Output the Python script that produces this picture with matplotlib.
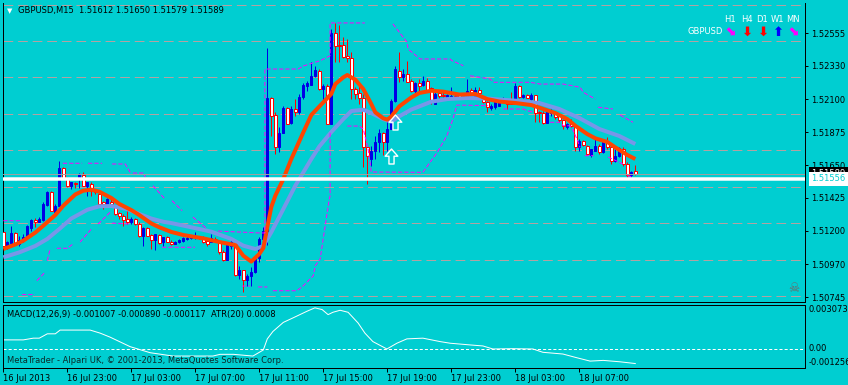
# GBPUSD M15 MetaTrader chart remake
import numpy as np
import matplotlib
matplotlib.use("Agg")
import matplotlib.pyplot as plt
from matplotlib.path import Path

# ---- values ----
opens = [1.51189, 1.51093, 1.51115, 1.51184, 1.51110, 1.51131, 1.51147, 1.51216, 1.51275, 1.51261,
         1.51275, 1.51376, 1.51463, 1.51330, 1.51371, 1.51627, 1.51559, 1.51504, 1.51527, 1.51554,
         1.51581, 1.51508, 1.51520, 1.51474, 1.51451, 1.51394, 1.51383, 1.51394, 1.51360, 1.51321,
         1.51302, 1.51280, 1.51257, 1.51280, 1.51245, 1.51165, 1.51216, 1.51170, 1.51138, 1.51170,
         1.51120, 1.51156, 1.51124, 1.51110, 1.51120, 1.51129, 1.51143, 1.51147, 1.51154, 1.51156,
         1.51152, 1.51129, 1.51120, 1.51146, 1.51124, 1.51056, 1.51001, 1.51097, 1.51120, 1.50896,
         1.50928, 1.50864, 1.50887, 1.50914, 1.51010, 1.51143, 1.51197, 1.52107, 1.51993, 1.51771,
         1.51869, 1.52039, 1.51936, 1.52034, 1.52015, 1.52114, 1.52194, 1.52198, 1.52258, 1.52296,
         1.52171, 1.52194, 1.51931, 1.52555, 1.52473, 1.52473, 1.52399, 1.52381, 1.52171, 1.52144,
         1.52107, 1.51771, 1.51691, 1.51748, 1.51810, 1.51867, 1.51810, 1.51897, 1.52091, 1.52296,
         1.52253, 1.52274, 1.52228, 1.52159, 1.52210, 1.52198, 1.52228, 1.52176, 1.52068, 1.52144,
         1.52132, 1.52114, 1.52116, 1.52121, 1.52137, 1.52123, 1.52114, 1.52166, 1.52107, 1.52166,
         1.52102, 1.52080, 1.52039, 1.52046, 1.52057, 1.52089, 1.52091, 1.52080, 1.52068, 1.52194,
         1.52116, 1.52130, 1.52102, 1.52130, 1.52011, 1.52006, 1.51938, 1.52006, 1.52015, 1.51993,
         1.51961, 1.51908, 1.51931, 1.51915, 1.51771, 1.51817, 1.51782, 1.51719, 1.51748, 1.51778,
         1.51737, 1.51806, 1.51771, 1.51679, 1.51710, 1.51760, 1.51657, 1.51581, 1.51612]
highs = [1.51197, 1.51131, 1.51232, 1.51191, 1.51163, 1.51177, 1.51239, 1.51280, 1.51285, 1.51291,
         1.51394, 1.51474, 1.51472, 1.51383, 1.51677, 1.51636, 1.51566, 1.51535, 1.51533, 1.51595,
         1.51600, 1.51535, 1.51531, 1.51485, 1.51463, 1.51405, 1.51422, 1.51417, 1.51371, 1.51330,
         1.51314, 1.51337, 1.51291, 1.51287, 1.51257, 1.51223, 1.51223, 1.51177, 1.51177, 1.51177,
         1.51154, 1.51163, 1.51136, 1.51131, 1.51143, 1.51158, 1.51163, 1.51165, 1.51189, 1.51163,
         1.51163, 1.51131, 1.51175, 1.51153, 1.51136, 1.51067, 1.51108, 1.51143, 1.51122, 1.50960,
         1.50930, 1.50903, 1.50949, 1.51028, 1.51154, 1.51223, 1.52450, 1.52114, 1.52011, 1.51908,
         1.52057, 1.52046, 1.52057, 1.52102, 1.52137, 1.52212, 1.52228, 1.52354, 1.52331, 1.52308,
         1.52205, 1.52205, 1.52582, 1.52624, 1.52610, 1.52525, 1.52514, 1.52423, 1.52183, 1.52205,
         1.52137, 1.51782, 1.51782, 1.51851, 1.51897, 1.51874, 1.51965, 1.52102, 1.52331, 1.52423,
         1.52308, 1.52365, 1.52240, 1.52217, 1.52240, 1.52262, 1.52244, 1.52183, 1.52148, 1.52157,
         1.52159, 1.52137, 1.52183, 1.52144, 1.52144, 1.52137, 1.52240, 1.52178, 1.52183, 1.52183,
         1.52109, 1.52089, 1.52068, 1.52091, 1.52091, 1.52114, 1.52093, 1.52148, 1.52212, 1.52198,
         1.52137, 1.52135, 1.52144, 1.52132, 1.52022, 1.52022, 1.52013, 1.52034, 1.52022, 1.52000,
         1.51965, 1.51938, 1.51965, 1.51919, 1.51828, 1.51821, 1.51787, 1.51760, 1.51828, 1.51794,
         1.51808, 1.51840, 1.51778, 1.51760, 1.51771, 1.51771, 1.51668, 1.51611, 1.51650]
lows = [1.51088, 1.51074, 1.51108, 1.51108, 1.51097, 1.51122, 1.51143, 1.51200, 1.51223, 1.51257,
        1.51268, 1.51371, 1.51335, 1.51328, 1.51367, 1.51554, 1.51497, 1.51485, 1.51492, 1.51490,
        1.51504, 1.51439, 1.51439, 1.51451, 1.51376, 1.51348, 1.51371, 1.51369, 1.51307, 1.51280,
        1.51230, 1.51245, 1.51245, 1.51239, 1.51156, 1.51097, 1.51163, 1.51074, 1.51069, 1.51108,
        1.51093, 1.51122, 1.51101, 1.51106, 1.51115, 1.51122, 1.51136, 1.51143, 1.51143, 1.51146,
        1.51115, 1.51097, 1.51120, 1.51136, 1.51040, 1.50992, 1.50999, 1.51074, 1.50889, 1.50868,
        1.50777, 1.50822, 1.50822, 1.50912, 1.50983, 1.51108, 1.51101, 1.51851, 1.51725, 1.51737,
        1.51867, 1.51929, 1.51931, 1.51988, 1.52000, 1.52102, 1.52159, 1.52196, 1.52251, 1.52164,
        1.52080, 1.51929, 1.51929, 1.52354, 1.52358, 1.52381, 1.52354, 1.52102, 1.52102, 1.52068,
        1.51634, 1.51520, 1.51645, 1.51691, 1.51737, 1.51719, 1.51748, 1.51895, 1.52080, 1.52217,
        1.52228, 1.52217, 1.52148, 1.52137, 1.52159, 1.52194, 1.52159, 1.52068, 1.52066, 1.52102,
        1.52114, 1.52112, 1.52114, 1.52109, 1.52109, 1.52109, 1.52102, 1.52137, 1.52102, 1.52116,
        1.52075, 1.52011, 1.52027, 1.52034, 1.52054, 1.52080, 1.52034, 1.52066, 1.52066, 1.52112,
        1.52112, 1.52109, 1.52080, 1.51947, 1.51943, 1.51931, 1.51936, 1.51988, 1.51965, 1.51943,
        1.51897, 1.51897, 1.51908, 1.51748, 1.51748, 1.51780, 1.51719, 1.51703, 1.51746, 1.51725,
        1.51735, 1.51760, 1.51657, 1.51668, 1.51703, 1.51645, 1.51554, 1.51566, 1.51579]
closes = [1.51097, 1.51120, 1.51184, 1.51110, 1.51138, 1.51154, 1.51230, 1.51271, 1.51261, 1.51280,
          1.51383, 1.51463, 1.51337, 1.51371, 1.51627, 1.51559, 1.51504, 1.51531, 1.51520, 1.51588,
          1.51508, 1.51531, 1.51474, 1.51463, 1.51383, 1.51383, 1.51417, 1.51383, 1.51314, 1.51298,
          1.51275, 1.51261, 1.51280, 1.51245, 1.51165, 1.51216, 1.51165, 1.51138, 1.51177, 1.51115,
          1.51154, 1.51124, 1.51110, 1.51124, 1.51134, 1.51152, 1.51152, 1.51156, 1.51161, 1.51153,
          1.51120, 1.51110, 1.51147, 1.51143, 1.51051, 1.51001, 1.51101, 1.51120, 1.50896, 1.50928,
          1.50864, 1.50891, 1.50918, 1.51005, 1.51143, 1.51200, 1.52107, 1.51988, 1.51771, 1.51869,
          1.52039, 1.51931, 1.52034, 1.52015, 1.52114, 1.52198, 1.52212, 1.52258, 1.52303, 1.52171,
          1.52194, 1.51931, 1.52555, 1.52468, 1.52466, 1.52388, 1.52381, 1.52171, 1.52137, 1.52107,
          1.51771, 1.51710, 1.51748, 1.51810, 1.51867, 1.51810, 1.51897, 1.52091, 1.52308, 1.52251,
          1.52274, 1.52221, 1.52159, 1.52210, 1.52194, 1.52228, 1.52166, 1.52098, 1.52137, 1.52121,
          1.52123, 1.52130, 1.52123, 1.52116, 1.52114, 1.52120, 1.52159, 1.52144, 1.52166, 1.52144,
          1.52080, 1.52046, 1.52057, 1.52080, 1.52084, 1.52096, 1.52068, 1.52068, 1.52194, 1.52114,
          1.52130, 1.52111, 1.52130, 1.52006, 1.52006, 1.51938, 1.52011, 1.52022, 1.51981, 1.51961,
          1.51919, 1.51931, 1.51915, 1.51771, 1.51817, 1.51787, 1.51725, 1.51760, 1.51782, 1.51737,
          1.51806, 1.51771, 1.51679, 1.51710, 1.51764, 1.51657, 1.51581, 1.51600, 1.51589]

# orange (fast) and blue (slow) moving averages, sampled along the chart
fast_idx = [0, 3, 5, 8, 10, 13, 15, 18, 20, 22, 24, 27, 29, 32, 34, 37, 39, 42, 45, 50, 54, 58, 60,
            62, 64, 65, 66, 67, 68, 70, 72, 75, 77, 79, 82, 83, 85, 86, 88, 90, 92, 93, 95, 96, 97,
            99, 102, 104, 107, 110, 114, 118, 121, 124, 128, 132, 135, 138, 141, 143, 146, 148,
            151, 153, 156, 158]
fast_ma = [1.51074, 1.51105, 1.51131, 1.51187, 1.51234, 1.51307, 1.51371, 1.51448, 1.51474, 1.51481,
           1.51467, 1.51424, 1.51383, 1.51341, 1.51307, 1.51249, 1.51223, 1.51191, 1.51170, 1.51147,
           1.51122, 1.51101, 1.51028, 1.50988, 1.51040, 1.51081, 1.51225, 1.51362, 1.51439, 1.51554,
           1.51691, 1.51874, 1.51993, 1.52051, 1.52137, 1.52205, 1.52251, 1.52267, 1.52235, 1.52171,
           1.52068, 1.52011, 1.51970, 1.51961, 1.51982, 1.52052, 1.52113, 1.52144, 1.52159, 1.52153,
           1.52133, 1.52137, 1.52102, 1.52085, 1.52075, 1.52061, 1.52034, 1.52006, 1.51965, 1.51919,
           1.51862, 1.51833, 1.51808, 1.51771, 1.51719, 1.51691]
slow_idx = [0, 4, 8, 11, 14, 17, 21, 24, 27, 31, 34, 37, 40, 42, 47, 52, 57, 60, 63, 65, 67, 70, 73,
            77, 79, 82, 85, 87, 90, 92, 95, 97, 99, 102, 107, 111, 116, 121, 124, 129, 134, 139,
            144, 149, 154, 158]
slow_ma = [1.51017, 1.51051, 1.51095, 1.51143, 1.51211, 1.51283, 1.51343, 1.51367, 1.51369, 1.51348,
           1.51314, 1.51283, 1.51261, 1.51252, 1.51223, 1.51193, 1.51143, 1.51097, 1.51074, 1.51095,
           1.51189, 1.51348, 1.51508, 1.51691, 1.51777, 1.51876, 1.51965, 1.52020, 1.52029, 1.52006,
           1.51965, 1.51947, 1.51984, 1.52030, 1.52084, 1.52102, 1.52109, 1.52106, 1.52099, 1.52089,
           1.52075, 1.52034, 1.51972, 1.51897, 1.51849, 1.51794]

# magenta channel lines (None = gap in the drawn line)
upper_idx = [0, 4.4, None, 14.9, 19.7, None, 21.2, 24.7, None, 27.2, 30.5, 31.2, 32, None,
             32.4, 35, 35.5, None, 37.4, 40.4, None, 42.2, 44.7, None, 47.4, 51, None,
             53.7, 64.2, 65.4, 65.4, 73.7, 75, 79.2, 81.7, 81.7, 90.4, None,
             97.4, 100.9, 101.2, 104.2, 111.7, 112.2, 115, None,
             116.7, 121.7, 122.7, 131.7, 134.2, 140, 144.2, 145, 148, None,
             148.7, 152.4, None, 154.2, 157.4]
upper_val = [1.51268, 1.51268, None, 1.51662, 1.51662, None, 1.51662, 1.51662, None,
             1.51657, 1.51657, 1.51623, 1.51588, None, 1.51595, 1.51595, 1.51568, None,
             1.51508, 1.51417, None, 1.51405, 1.51337, None, 1.51293, 1.51211, None,
             1.51197, 1.51184, 1.51184, 1.52308, 1.52308, 1.52329, 1.52365, 1.52399, 1.52624,
             1.52624, None, 1.52617, 1.52493, 1.52445, 1.52377, 1.52377, 1.52365, 1.52331, None,
             1.52262, 1.52240, 1.52217, 1.52217, 1.52205, 1.52205, 1.52183, 1.52148, 1.52102, None,
             1.52046, 1.52034, None, 1.51993, 1.51943]
lower_idx = [4.7, 7.9, None, 8.4, 10.4, None, 11, 11.7, None, 13.4, 16, 17.4, None, 19.2, 22, None,
             23.7, 26.7, None, 27.2, 31.7, None, 39.7, 47.9, None, 59.7, 61.7, None, 63.7, 66, None,
             67.4, 73.4, 75, 77.5, 78, 79.2, 81.5, 81.7, 81.7, None,
             86, 89, 90, 91.2, 92, 104.9, 106, 108.5, 110.9, 112.4, 113.4, 121.2, None,
             125, 130, 131, 132.7, None, 136.7, 139.2, 140, 141.7, 142.5, 143.4, 144.2, None,
             145.4, 147.6, None, 151.2, 154.9, None, 156, 157.5]
lower_val = [1.50762, 1.50762, None, 1.50857, 1.50914, None, 1.50994, 1.51074, None,
             1.51079, 1.51079, 1.51108, None, 1.51122, 1.51211, None, 1.51245, 1.51326, None,
             1.51252, 1.51245, None, 1.51086, 1.51086, None, 1.50820, 1.50820, None,
             1.50814, 1.50814, None, 1.50788, 1.50788, 1.50822, 1.50891, 1.50960, 1.51005,
             1.51417, 1.51437, 1.51876, None, 1.51917, 1.51917, 1.51897, 1.51760, 1.51602,
             1.51600, 1.51643, 1.51737, 1.51851, 1.51965, 1.52061, 1.52057, None,
             1.52034, 1.52034, 1.52022, 1.52011, None, 1.51943, 1.51943, 1.51919, 1.51919,
             1.51885, 1.51828, 1.51771, None, 1.51714, 1.51714, None, 1.51705, 1.51657, None,
             1.51577, 1.51566]

# MACD main line
macd_idx = [0, 5, 7.5, 9, 11, 13, 14.2, 21.7, 24.2, 26.7, 31.7, 36.7, 42.4, 52.4, 54.2, 57.5, 62.4,
            65, 66, 67.4, 70, 72.4, 75.9, 77.9, 79.7, 81.2, 82.4, 84.2, 86.2, 88.7, 90.4, 92.4,
            95.9, 98.4, 100.9, 104.9, 109.2, 111.7, 116.7, 119.9, 122.4, 127.4, 132.4, 134.9,
            139.9, 143.4, 146.7, 150, 154.2, 158]
macd_val = [0.000628, 0.000628, 0.000747, 0.000747, 0.001047, 0.001047, 0.001306, 0.001306,
            0.001096, 0.000817, 0.000161, -0.000258, -0.000489, -0.000489, -0.000370, -0.000370,
            -0.000489, -0.000070, 0.000698, 0.001208, 0.001836, 0.002144, 0.002604, 0.002842,
            0.002723, 0.002374, 0.002535, 0.002674, 0.002535, 0.001794, 0.001096, 0.000510,
            0.0, 0.000398, 0.000698, 0.000747, 0.000510, 0.000398, 0.000279, 0.000209, 0.0,
            0.000021, 0.0, -0.000230, -0.000349, -0.000607, -0.000838, -0.000789, -0.000887,
            -0.001007]
macd_max, macd_min = 0.003073, -0.001256

# signal arrows
sig_idx = [98, 97]
sig_price = [1.51943, 1.51714]

price_ticks = [1.52555, 1.52330, 1.52100, 1.51875, 1.51650, 1.51425, 1.51200, 1.50970, 1.50745]
round_levels = [1.5075, 1.5100, 1.5125, 1.5150, 1.5175, 1.5200, 1.5225, 1.5250, 1.5275]
bid_price = 1.51589
hline_price = 1.51556

time_idx = [0, 16, 32, 48, 64, 80, 96, 112, 128, 144]
time_labels = ["16 Jul 2013", "16 Jul 23:00", "17 Jul 03:00", "17 Jul 07:00", "17 Jul 11:00",
               "17 Jul 15:00", "17 Jul 19:00", "17 Jul 23:00", "18 Jul 03:00", "18 Jul 07:00"]

tf_names = ["H1", "H4", "D1", "W1", "MN"]
tf_arrows = ["\u2b0a", "\u2b07", "\u2b07", "\u2b06", "\u2b0a"]
tf_colors = ["#ff00ff", "#ff0000", "#ff0000", "#0000ff", "#ff00ff"]

# ---- style ----
BG = "#00ced1"
BULL = "#0000e6"
BEAR = "#ff0000"
W, H = 848, 385
PX = 0.72  # one pixel in points at dpi 100

plt.rcParams["font.family"] = ["DejaVu Sans"]
plt.rcParams["font.size"] = 6
plt.rcParams["lines.scale_dashes"] = False

fig = plt.figure(figsize=(W / 100, H / 100), dpi=100, facecolor=BG)


def fx(x):
    return x / W


def fy(y):
    return 1 - y / H


# pixel layout of the two panes
L, R = 2.5, 805
T1, B1 = 3, 301.5
T2, B2 = 304.5, 367.5


def price_at(ypx):
    return 1.52555 - (ypx - 34) / 14586


xlim = ((L - 3.3) / 4, (R - 3.3) / 4)

ax = fig.add_axes([fx(L), fy(B1), (R - L) / W, (B1 - T1) / H], facecolor=BG)
ax2 = fig.add_axes([fx(L), fy(B2), (R - L) / W, (B2 - T2) / H], facecolor=BG)

ax.set_xlim(*xlim)
ax.set_ylim(price_at(B1 + 1), price_at(T1 + 1))

# round-number levels
for lv in round_levels:
    ax.axhline(lv, color="#b2a2a2", lw=PX, dashes=(7, 3.5), zorder=1)

# candles
o = np.array(opens)
h = np.array(highs)
lo = np.array(lows)
c = np.array(closes)
idx = np.arange(len(c))
up = c > o
body_bot = np.minimum(o, c)
body_h = np.abs(c - o)

ax.vlines(idx[up], lo[up], h[up], color=BULL, lw=PX, zorder=2)
ax.vlines(idx[~up], lo[~up], h[~up], color=BEAR, lw=PX, zorder=2)
ax.bar(idx[up], body_h[up], bottom=body_bot[up], width=0.55, color=BULL,
       edgecolor=BULL, lw=PX, zorder=3)
ax.bar(idx[~up], body_h[~up], bottom=body_bot[~up], width=0.7, facecolor="white",
       edgecolor=BEAR, lw=PX, zorder=3)

# moving averages
ax.plot(slow_idx, slow_ma, color="#7896e8", lw=4 * PX, solid_capstyle="butt", zorder=4)
ax.plot(fast_idx, fast_ma, color="#ff4500", lw=4 * PX, solid_capstyle="butt", zorder=5)

# channel lines
ax.plot(np.array(upper_idx, dtype=float), np.array(upper_val, dtype=float),
        color="#ff00ff", lw=PX, dashes=(3, 1.5), zorder=6)
ax.plot(np.array(lower_idx, dtype=float), np.array(lower_val, dtype=float),
        color="#ff00ff", lw=PX, dashes=(3, 1.5), zorder=6)

# hollow up arrows
arrow = Path([(0, 0.5), (0.42, 0.02), (0.17, 0.02), (0.17, -0.5), (-0.17, -0.5),
              (-0.17, 0.02), (-0.42, 0.02), (0, 0.5)],
             [Path.MOVETO] + [Path.LINETO] * 6 + [Path.CLOSEPOLY])
ax.plot(sig_idx, sig_price, ls="none", marker=arrow, markersize=15 * PX,
        markerfacecolor="none", markeredgecolor="white", markeredgewidth=1.4 * PX, zorder=7)

# bid line and user line
ax.axhline(bid_price, color="#a0a0a0", lw=PX, zorder=8)
ax.axhline(hline_price, color="white", lw=3.5 * PX, zorder=8)

# price axis
ax.yaxis.tick_right()
ax.set_yticks(price_ticks)
ax.set_yticklabels([f"{p:.5f}" for p in price_ticks])
ax.tick_params(axis="y", direction="out", length=3 * PX, width=PX, pad=2.5,
               labelsize=6, colors="black")
ax.set_xticks([])
for side in ["left", "right", "bottom"]:
    ax.spines[side].set_color("black")
    ax.spines[side].set_linewidth(PX)
ax.spines["top"].set_visible(False)

yt = ax.get_yaxis_transform()
ax.text(1 + 6 / (R - L), bid_price, f"{bid_price:.5f}", transform=yt, color="white",
        va="center", ha="left", fontsize=6, clip_on=False, zorder=9,
        bbox=dict(boxstyle="square,pad=0.3", fc="black", ec="none"))
ax.text(1 + 6 / (R - L), hline_price, f"{hline_price:.5f}", transform=yt, color=BG,
        va="center", ha="left", fontsize=6, clip_on=False, zorder=10,
        bbox=dict(boxstyle="square,pad=0.3", fc="white", ec="none"))

# skull marker near the bottom right
ax.text((794 - L) / (R - L), (B1 - 288) / (B1 - T1), "\u2620", transform=ax.transAxes,
        color="#6a6a6a", fontsize=9, ha="center", va="center")

# MACD pane
ax2.set_xlim(*xlim)
ax2.set_ylim(-0.00128, macd_max)
ax2.axhline(0, color="white", lw=PX, dashes=(2.2, 1.5))
ax2.plot(macd_idx, macd_val, color="white", lw=PX)
ax2.set_yticks([])
ax2.set_xticks(time_idx)
ax2.set_xticklabels(time_labels, ha="left")
ax2.tick_params(axis="x", direction="out", length=4 * PX, width=PX, pad=1.5,
                labelsize=6, colors="black")
for side in ax2.spines.values():
    side.set_color("black")
    side.set_linewidth(PX)

yt2 = ax2.get_yaxis_transform()
ax2.text(1 + 4 / (R - L), macd_max, f"{macd_max:.6f}", transform=yt2, va="top",
         ha="left", fontsize=6, clip_on=False)
ax2.text(1 + 4 / (R - L), 0, "0.00", transform=yt2, va="center", ha="left",
         fontsize=6, clip_on=False)
ax2.text(1 + 4 / (R - L), macd_min, f"{macd_min:.6f}", transform=yt2, va="bottom",
         ha="left", fontsize=6, clip_on=False)

# header texts
fig.text(fx(10), fy(11), "\u25bc", color="white", fontsize=5, ha="center", va="center")
fig.text(fx(18), fy(10.5),
         f"GBPUSD,M15  {opens[-1]:.5f} {highs[-1]:.5f} {lows[-1]:.5f} {closes[-1]:.5f}",
         va="center", ha="left", fontsize=6, color="black")
fig.text(fx(7), fy(314), "MACD(12,26,9) -0.001007 -0.000890 -0.000117  ATR(20) 0.0008",
         va="center", ha="left", fontsize=6, color="black")
fig.text(fx(7), fy(360.5), "MetaTrader - Alpari UK, \u00a9 2001-2013, MetaQuotes Software Corp.",
         va="center", ha="left", fontsize=6, color="#0b2a2a")

# multi-timeframe trend box
tf_x = [730, 746.7, 762.3, 777.3, 793.3]
for x, name, arr, col in zip(tf_x, tf_names, tf_arrows, tf_colors):
    fig.text(fx(x), fy(19.5), name, color="white", fontsize=6, ha="center", va="center")
    fig.text(fx(x), fy(32), arr, color=col, fontsize=9.5, fontweight="bold",
             ha="center", va="center")
fig.text(fx(705), fy(32), "GBPUSD", color="white", fontsize=6, ha="center", va="center")

fig.savefig("out.png", dpi=100, facecolor=BG)
